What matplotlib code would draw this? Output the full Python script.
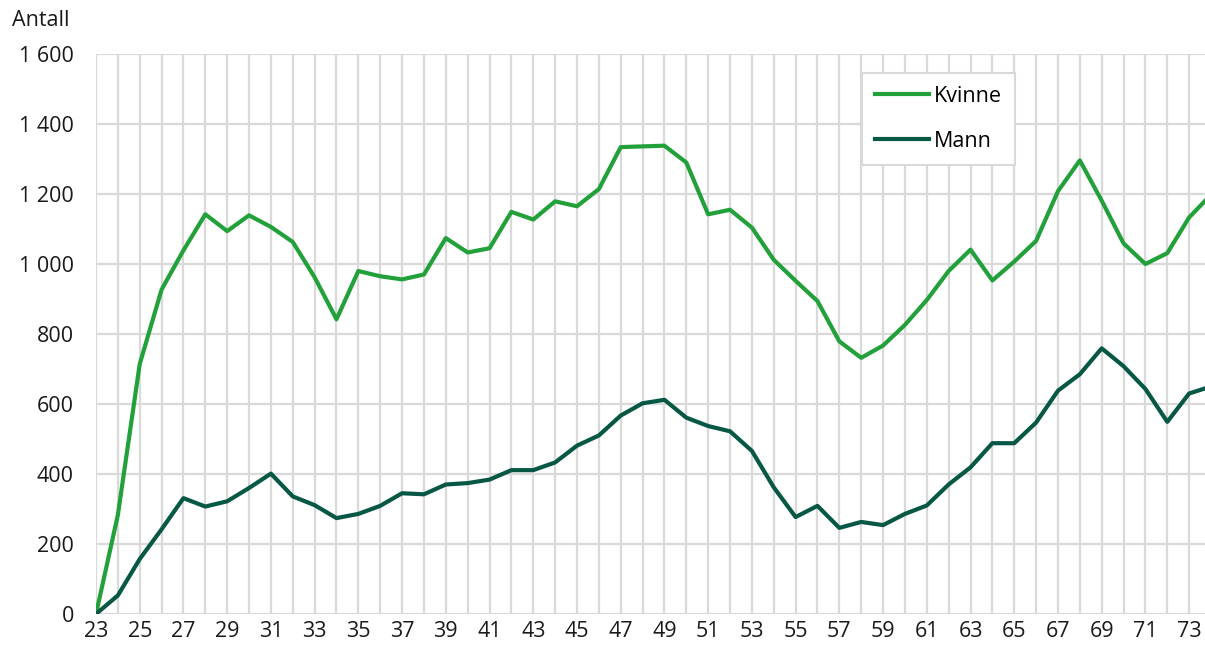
import matplotlib
matplotlib.use("Agg")
from matplotlib import pyplot as plt
from matplotlib.ticker import FuncFormatter, MultipleLocator, FixedLocator

plt.rcParams['font.family'] = ['Open Sans', 'DejaVu Sans']

alder = list(range(23, 75))
kvinne = [0, 283, 714, 927, 1039, 1142, 1094, 1139, 1106, 1063,
          962, 842, 980, 965, 956, 970, 1074, 1033, 1045, 1149,
          1127, 1179, 1165, 1214, 1334, 1336, 1338, 1290, 1142, 1155,
          1104, 1012, 952, 894, 779, 732, 767, 826, 897, 980,
          1041, 953, 1007, 1066, 1208, 1296, 1181, 1059, 1000, 1031,
          1133, 1198]
mann = [0, 53, 157, 242, 331, 307, 322, 360, 401, 336,
        311, 274, 286, 309, 345, 342, 370, 374, 384, 411,
        411, 433, 481, 510, 567, 602, 612, 561, 537, 522,
        466, 362, 277, 309, 246, 263, 254, 286, 310, 370,
        419, 488, 488, 547, 638, 685, 759, 708, 643, 549,
        630, 650]
x_ticks = list(range(23, 74, 2))

fs = 15.5
fig = plt.figure(figsize=(12.05, 6.48), dpi=100)
# axes: x=23 at px 96, x=74 at px 1211 (slightly past the right edge)
ax = fig.add_axes([96 / 1205, 1 - 614 / 648, (1211 - 96) / 1205, 560 / 648])

ax.plot(alder, kvinne, color="#22a03a", lw=3, label="Kvinne", zorder=3)
ax.plot(alder, mann, color="#075745", lw=3, label="Mann", zorder=3)

ax.set_xlim(23, 74)
ax.set_ylim(0, 1600)
ax.xaxis.set_major_locator(FixedLocator(x_ticks))
ax.xaxis.set_minor_locator(MultipleLocator(1))
ax.yaxis.set_major_locator(MultipleLocator(200))
ax.yaxis.set_major_formatter(FuncFormatter(lambda v, p: f"{int(v):,}".replace(",", " ")))
ax.grid(True, which="both", color="#d9d9d9", lw=1.6, zorder=0)
ax.tick_params(which="both", length=0, labelsize=fs, colors="#1a1a1a")
ax.tick_params(axis="x", pad=5)
ax.tick_params(axis="y", pad=16)
for s in ax.spines.values():
    s.set_visible(False)

fig.text(12 / 1205, 1 - 20 / 648, "Antall", fontsize=fs, color="#1a1a1a", va="center")

leg = ax.legend(loc="upper left", bbox_to_anchor=(862 / 1205, 1 - 73 / 648),
                bbox_transform=fig.transFigure, fontsize=fs, frameon=True,
                fancybox=False, edgecolor="#d9d9d9", framealpha=1,
                handlelength=2.5, handletextpad=0.25, labelspacing=1.1,
                borderpad=0.6, borderaxespad=0)
leg.get_frame().set_linewidth(1.5)

fig.savefig("out.png", dpi=100)
